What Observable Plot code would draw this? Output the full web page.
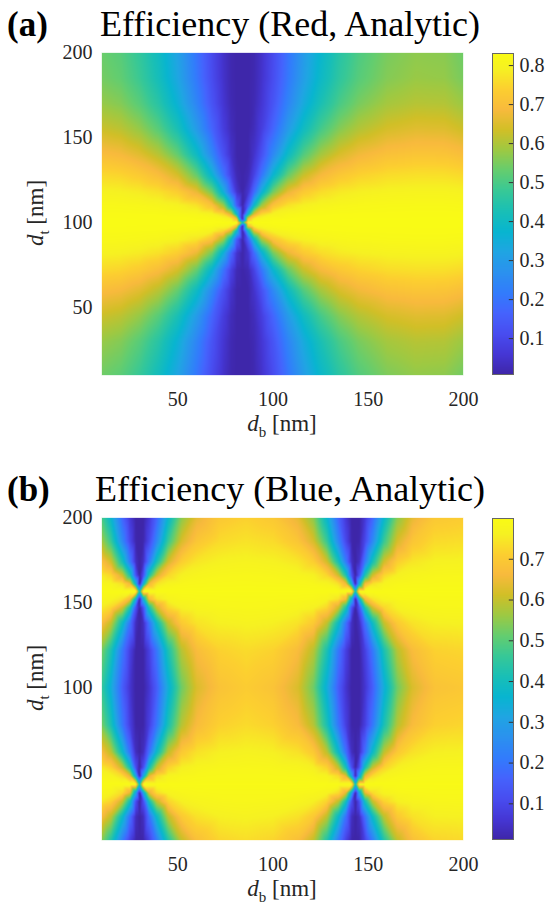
<!DOCTYPE html>
<html><head><meta charset="utf-8">
<script src="https://cdn.jsdelivr.net/npm/d3@7"></script>
<script src="https://cdn.jsdelivr.net/npm/@observablehq/plot@0.6"></script>
<style>
html,body{margin:0;padding:0;background:#fff;}
body{width:546px;height:910px;position:relative;overflow:hidden;font-family:"Liberation Serif","Times New Roman",serif;}
.abs{position:absolute;left:0;}
</style></head><body>
<script>
// ---------- data ----------
const axisTicks = [50, 100, 150, 200];

// Panel (a): Efficiency (Red, Analytic)
const dbA = [10,20,30,40,50,60,68,74,78,81,84,87,90,94,100,108,116,125,135,145,160,175,190,200];
const dtA = [200,185,170,155,140,128,118,110,105,102,100,98,95,90,82,72,60,45,30,10];
const effA = [
 [.536,.516,.470,.405,.315,.201,.106,.046,.017,.010,.010,.010,.017,.046,.106,.201,.294,.380,.453,.504,.550,.569,.565,.539],
 [.546,.527,.482,.417,.326,.210,.111,.048,.018,.010,.010,.010,.018,.048,.111,.210,.304,.392,.465,.515,.560,.579,.575,.549],
 [.578,.560,.517,.453,.361,.239,.129,.057,.021,.010,.010,.010,.021,.057,.129,.239,.339,.428,.500,.549,.591,.608,.605,.581],
 [.630,.614,.576,.516,.427,.296,.168,.076,.029,.010,.010,.010,.029,.076,.168,.296,.404,.493,.561,.604,.641,.656,.653,.632],
 [.698,.686,.657,.609,.530,.399,.247,.120,.048,.012,.010,.012,.048,.120,.247,.399,.509,.589,.645,.679,.706,.716,.714,.699],
 [.755,.748,.729,.697,.640,.530,.371,.201,.086,.023,.010,.023,.086,.201,.371,.530,.624,.684,.721,.743,.760,.766,.765,.756],
 [.796,.792,.783,.767,.736,.668,.542,.355,.176,.053,.010,.053,.176,.355,.542,.668,.727,.760,.780,.790,.798,.801,.801,.796],
 [.819,.818,.815,.809,.798,.771,.711,.584,.383,.147,.010,.147,.383,.584,.711,.771,.794,.807,.813,.817,.820,.821,.821,.819],
 [.827,.827,.826,.825,.822,.814,.797,.750,.642,.383,.010,.383,.642,.750,.797,.814,.821,.824,.826,.827,.827,.828,.828,.827],
 [.830,.830,.829,.829,.829,.827,.824,.816,.793,.699,.010,.699,.793,.816,.824,.827,.829,.829,.829,.830,.830,.830,.830,.830],
 [.830,.830,.830,.830,.830,.830,.830,.830,.830,.830,.450,.830,.830,.830,.830,.830,.830,.830,.830,.830,.830,.830,.830,.830],
 [.830,.830,.829,.829,.829,.827,.824,.816,.793,.699,.010,.699,.793,.816,.824,.827,.829,.829,.829,.830,.830,.830,.830,.830],
 [.827,.827,.826,.825,.822,.814,.797,.750,.642,.383,.010,.383,.642,.750,.797,.814,.821,.824,.826,.827,.827,.828,.828,.827],
 [.819,.818,.815,.809,.798,.771,.711,.584,.383,.147,.010,.147,.383,.584,.711,.771,.794,.807,.813,.817,.820,.821,.821,.819],
 [.796,.792,.783,.767,.736,.668,.542,.355,.176,.053,.010,.053,.176,.355,.542,.668,.727,.760,.780,.790,.798,.801,.801,.796],
 [.755,.748,.729,.697,.640,.530,.371,.201,.086,.023,.010,.023,.086,.201,.371,.530,.624,.684,.721,.743,.760,.766,.765,.756],
 [.698,.686,.657,.609,.530,.399,.247,.120,.048,.012,.010,.012,.048,.120,.247,.399,.509,.589,.645,.679,.706,.716,.714,.699],
 [.630,.614,.576,.516,.427,.296,.168,.076,.029,.010,.010,.010,.029,.076,.168,.296,.404,.493,.561,.604,.641,.656,.653,.632],
 [.578,.560,.517,.453,.361,.239,.129,.057,.021,.010,.010,.010,.021,.057,.129,.239,.339,.428,.500,.549,.591,.608,.605,.581],
 [.541,.521,.476,.410,.320,.205,.108,.047,.017,.010,.010,.010,.017,.047,.108,.205,.298,.386,.458,.509,.554,.573,.569,.543]
];
const colorDomainA = [0.008, 0.831];
const colorTicksA = [0.1,0.2,0.3,0.4,0.5,0.6,0.7,0.8];

// Panel (b): Efficiency (Blue, Analytic)
const dbB = [10,15,21,25,28,30,32,35,39,45,52,60,72,86,100,113,121.3,128.3,134.3,138.3,141.3,143.3,145.3,148.3,152.3,158.3,165.3,173.3,185,200];
const dtB = [200,186,174,166,161,156.5,152,147,138,122,100,78,62,53,48,43,38,33,24,10];
const effB = [
 [.487,.367,.167,.065,.011,.010,.011,.065,.167,.367,.546,.641,.697,.715,.698,.641,.546,.367,.167,.065,.011,.010,.011,.065,.167,.367,.546,.641,.697,.706],
 [.573,.464,.242,.101,.018,.010,.018,.101,.242,.464,.621,.692,.730,.742,.731,.692,.621,.464,.242,.101,.018,.010,.018,.101,.242,.464,.621,.692,.730,.736],
 [.684,.614,.410,.209,.043,.010,.043,.209,.410,.614,.711,.747,.765,.770,.765,.747,.711,.614,.410,.209,.043,.010,.043,.209,.410,.614,.711,.747,.765,.767],
 [.754,.725,.613,.423,.122,.010,.122,.423,.613,.725,.764,.776,.782,.784,.782,.776,.764,.725,.613,.423,.122,.010,.122,.423,.613,.725,.764,.776,.782,.783],
 [.781,.774,.741,.660,.352,.010,.352,.660,.741,.774,.784,.787,.788,.789,.788,.787,.784,.774,.741,.660,.352,.010,.352,.660,.741,.774,.784,.787,.788,.788],
 [.795,.795,.795,.795,.795,.400,.795,.795,.795,.795,.795,.795,.795,.795,.795,.795,.795,.795,.795,.795,.795,.400,.795,.795,.795,.795,.795,.795,.795,.795],
 [.781,.774,.741,.660,.352,.010,.352,.660,.741,.774,.784,.787,.788,.789,.788,.787,.784,.774,.741,.660,.352,.010,.352,.660,.741,.774,.784,.787,.788,.788],
 [.754,.725,.613,.423,.122,.010,.122,.423,.613,.725,.764,.776,.782,.784,.782,.776,.764,.725,.613,.423,.122,.010,.122,.423,.613,.725,.764,.776,.782,.783],
 [.674,.600,.390,.194,.039,.010,.039,.194,.390,.600,.703,.743,.762,.768,.762,.743,.703,.600,.390,.194,.039,.010,.039,.194,.390,.600,.703,.743,.762,.765],
 [.535,.420,.205,.083,.014,.010,.014,.083,.205,.420,.589,.671,.717,.731,.718,.671,.589,.420,.205,.083,.014,.010,.014,.083,.205,.420,.589,.671,.717,.724],
 [.461,.340,.150,.057,.010,.010,.010,.057,.150,.340,.522,.624,.685,.705,.686,.624,.522,.340,.150,.057,.010,.010,.010,.057,.150,.340,.522,.624,.685,.695],
 [.532,.416,.202,.081,.014,.010,.014,.081,.202,.416,.586,.669,.715,.730,.716,.669,.586,.416,.202,.081,.014,.010,.014,.081,.202,.416,.586,.669,.715,.723],
 [.670,.593,.380,.187,.037,.010,.037,.187,.380,.593,.700,.740,.761,.767,.761,.740,.700,.593,.380,.187,.037,.010,.037,.187,.380,.593,.700,.740,.761,.764],
 [.750,.719,.599,.404,.112,.010,.112,.404,.599,.719,.761,.775,.781,.783,.781,.775,.761,.719,.599,.404,.112,.010,.112,.404,.599,.719,.761,.775,.781,.782],
 [.779,.771,.731,.635,.312,.010,.312,.635,.731,.771,.782,.786,.788,.788,.788,.786,.782,.771,.731,.635,.312,.010,.312,.635,.731,.771,.782,.786,.788,.788],
 [.795,.795,.795,.795,.795,.400,.795,.795,.795,.795,.795,.795,.795,.795,.795,.795,.795,.795,.795,.795,.795,.400,.795,.795,.795,.795,.795,.795,.795,.795],
 [.779,.771,.731,.635,.312,.010,.312,.635,.731,.771,.782,.786,.788,.788,.788,.786,.782,.771,.731,.635,.312,.010,.312,.635,.731,.771,.782,.786,.788,.788],
 [.750,.719,.599,.404,.112,.010,.112,.404,.599,.719,.761,.775,.781,.783,.781,.775,.761,.719,.599,.404,.112,.010,.112,.404,.599,.719,.761,.775,.781,.782],
 [.670,.593,.380,.187,.037,.010,.037,.187,.380,.593,.700,.740,.761,.767,.761,.740,.700,.593,.380,.187,.037,.010,.037,.187,.380,.593,.700,.740,.761,.764],
 [.546,.432,.215,.087,.015,.010,.015,.087,.215,.432,.598,.677,.721,.734,.721,.677,.598,.432,.215,.087,.015,.010,.015,.087,.215,.432,.598,.677,.721,.728]
];
const colorDomainB = [0.0125, 0.800];
const colorTicksB = [0.1,0.2,0.3,0.4,0.5,0.6,0.7];

// parula colormap stops (position in [0,1], colour)
const parulaPos = [0,4,8,12,16,20,24,28,32,36,40,44,48,52,56,60,63].map(i => i / 63);
const parulaHex = ["#3e26a8","#4537d5","#484df0","#4563fd","#327cfc","#2b91ef","#20a5e3","#08b5d0",
                   "#19bfb6","#37c897","#64cd6f","#9dc943","#d1bf27","#f8ba3d","#fccf30","#f6f122","#f9fb15"];

// ---------- drawing ----------
const parula = d3.scaleLinear().domain(parulaPos).range(parulaHex).interpolate(d3.interpolateRgb).clamp(true);
const FONT = '"Liberation Serif","Times New Roman",serif';
const INK = "#262626";

function panel(top, letter, title, db, dt, eff, cDomain, cTicks) {
  const pts = [];
  dt.forEach((y, i) => db.forEach((x, j) => pts.push({db: x, dt: y, eff: eff[i][j]})));
  const colorOpts = {type: "linear", domain: cDomain, interpolate: t => parula(t), clamp: true};

  const main = Plot.plot({
    width: 546, height: 440,
    marginLeft: 101, marginRight: 83, marginTop: 52, marginBottom: 65,
    style: {fontFamily: FONT, fontSize: "20px", color: INK, background: "transparent", overflow: "visible"},
    x: {domain: [10, 200], ticks: axisTicks, tickSize: 0, tickPadding: 16, label: null},
    y: {domain: [10, 200], ticks: axisTicks, tickSize: 0, tickPadding: 9, label: null},
    color: colorOpts,
    marks: [
      Plot.raster(pts, {x: "db", y: "dt", fill: "eff", interpolate: "barycentric"}),
      Plot.frame({stroke: "#ffffff", strokeOpacity: 0.7})
    ]
  });
  const s = d3.select(main);
  s.append("text").attr("x", 7).attr("y", 36).attr("text-anchor", "start").attr("font-weight", "bold")
    .attr("font-size", 35).attr("fill", "#000").text(letter);
  s.append("text").attr("x", 290).attr("y", 36).attr("text-anchor", "middle").attr("font-size", 36)
    .attr("fill", "#000").text(title);
  const xl = s.append("text").attr("x", 282).attr("y", 431).attr("text-anchor", "middle")
    .attr("font-size", 23).attr("fill", INK);
  xl.append("tspan").attr("font-style", "italic").text("d");
  xl.append("tspan").attr("font-size", 15).attr("dy", 6).text("b");
  xl.append("tspan").attr("dy", -6).text(" [nm]");
  const yl = s.append("text").attr("transform", "translate(43,213) rotate(-90)").attr("text-anchor", "middle")
    .attr("font-size", 23).attr("fill", INK);
  yl.append("tspan").attr("font-style", "italic").text("d");
  yl.append("tspan").attr("font-size", 15).attr("dy", 6).text("t");
  yl.append("tspan").attr("dy", -6).text(" [nm]");
  main.classList.add("abs");
  main.style.top = top + "px";
  document.body.appendChild(main);

  const bar = Plot.plot({
    width: 86, height: 440,
    marginLeft: 32, marginRight: 33, marginTop: 53, marginBottom: 66,
    style: {fontFamily: FONT, fontSize: "20px", color: INK, background: "transparent", overflow: "visible"},
    x: {domain: [0, 1], axis: null},
    y: {domain: cDomain, axis: "right", ticks: cTicks, tickSize: 0, tickPadding: 6, tickFormat: d3.format(".1f"), label: null},
    color: colorOpts,
    marks: [
      Plot.raster({fill: (x, y) => y, x1: 0, x2: 1, y1: cDomain[0], y2: cDomain[1]}),
      Plot.ruleY(cTicks, {y: d => d, x1: 0.8, x2: 1, stroke: "#333", strokeWidth: 1}),
      Plot.frame({stroke: "#666", strokeWidth: 1})
    ]
  });
  bar.classList.add("abs");
  bar.style.left = "460px";
  bar.style.top = top + "px";
  document.body.appendChild(bar);
}

panel(0, "(a)", "Efficiency (Red, Analytic)", dbA, dtA, effA, colorDomainA, colorTicksA);
panel(465, "(b)", "Efficiency (Blue, Analytic)", dbB, dtB, effB, colorDomainB, colorTicksB);
</script>
</body></html>
